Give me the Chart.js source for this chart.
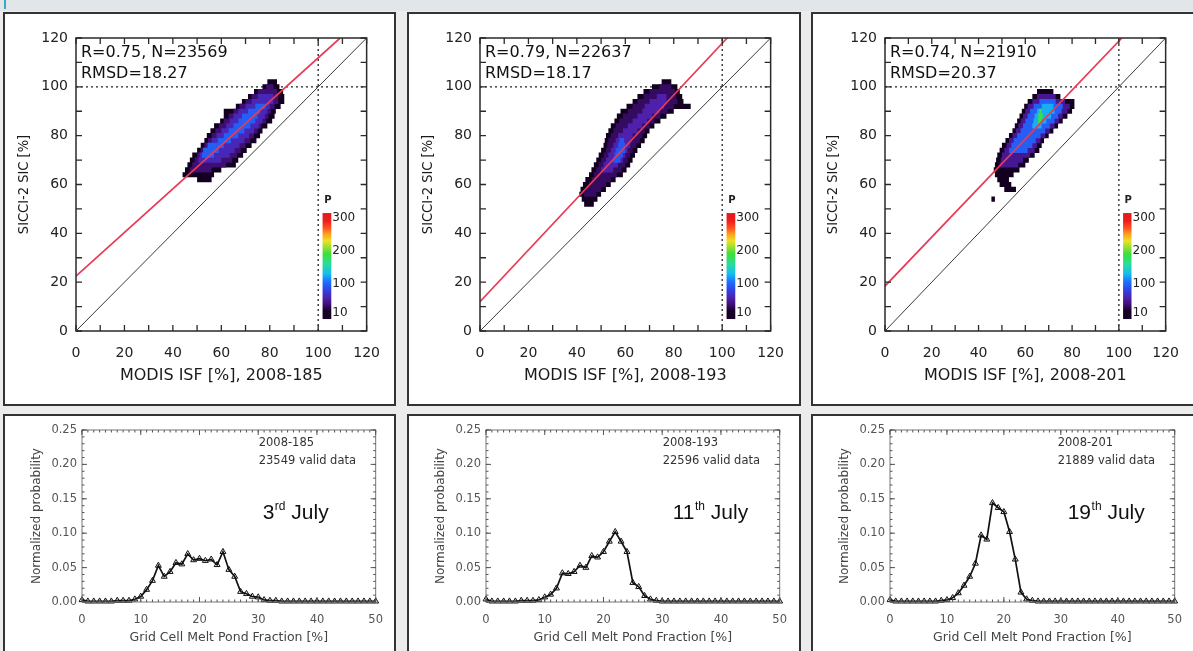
<!DOCTYPE html>
<html><head><meta charset="utf-8">
<script src="https://cdn.jsdelivr.net/npm/chart.js@4.4.1/dist/chart.umd.min.js"></script>
<style>
html,body{margin:0;padding:0;}
body{width:1193px;height:651px;overflow:hidden;position:relative;background:#ececec;font-family:'DejaVu Sans',sans-serif;}
.frame{position:absolute;border:2px solid #333;background:#fff;box-sizing:border-box;}
canvas{position:absolute;}
#hdr{position:absolute;left:0;top:0;width:1193px;height:11px;background:#e3e6e9;}
#hdrbar{position:absolute;left:4px;top:0;width:2px;height:9px;background:#3aa7c8;}
</style></head><body>
<div id="hdr"></div><div id="hdrbar"></div>
<div class="frame" style="left:3px;top:12px;width:393px;height:394px"></div>
<div class="frame" style="left:407px;top:12px;width:394px;height:394px"></div>
<div class="frame" style="left:811px;top:12px;width:400px;height:394px"></div>
<div class="frame" style="left:3px;top:414px;width:393px;height:260px"></div>
<div class="frame" style="left:407px;top:414px;width:394px;height:260px"></div>
<div class="frame" style="left:811px;top:414px;width:400px;height:260px"></div>
<canvas id="t0" width="389" height="389" style="left:5px;top:14px"></canvas>
<canvas id="t1" width="389" height="389" style="left:409px;top:14px"></canvas>
<canvas id="t2" width="379" height="389" style="left:814px;top:14px"></canvas>
<canvas id="b0" width="389" height="235" style="left:5px;top:416px"></canvas>
<canvas id="b1" width="389" height="235" style="left:409px;top:416px"></canvas>
<canvas id="b2" width="380" height="235" style="left:813px;top:416px"></canvas>
<script>
// ---------------- DATA ----------------
const scatterDays = ['2008-185', '2008-193', '2008-201'];
const statsR = [0.75, 0.79, 0.74];
const statsN = [23569, 22637, 21910];
const statsRMSD = [18.27, 18.17, 20.37];
const fitIntercept = [22.5, 12.0, 18.4];
const fitSlope = [0.894, 1.058, 1.003];
const axis120Ticks = [0, 20, 40, 60, 80, 100, 120];
const colorbarTicks = [10, 100, 200, 300];

// 2-D histogram rows: [SIC (y), ISF start (x0), ISF end (x1)] per density level P
const d185_p12 = [[62,50,56],[64,44,57],[66,45,60],[68,46,66],[70,47,67],[72,48,69],[74,50,70.5],[76,51.5,72.5],[78,53,74.5],[80,54,76],[82,55.5,77],[84,57,79],[86,59.5,81],[88,61,82],[90,61,82.5],[92,66,84.5],[94,68.5,86],[96,71,86],[98,73.5,85.5],[100,77,84],[102,79,83]];
const d185_p35 = [[66,47,56],[68,48,62],[70,49,64.5],[72,50,66.5],[74,51.5,68],[76,53,70],[78,54.5,72],[80,56,73.5],[82,57.5,75],[84,59,76.5],[86,61,78.5],[88,63,79.5],[90,65,80.5],[92,67.5,82],[94,70,83.5],[96,72.5,83.5],[98,75,83],[100,78.5,81.5]];
const d185_p60 = [[70,50.5,60],[72,51,63.5],[74,52.5,65.5],[76,54,67.5],[78,56,69.5],[80,58,71.5],[82,60,73.5],[84,62,75.5],[86,63.5,77],[88,65,78],[90,67,79],[92,70,80],[94,72.5,81.5],[96,75,81.5]];
const d185_p95 = [[72,52,57],[74,52.5,59],[76,54.5,61],[78,58.5,64],[80,61,67],[82,63,69.5],[84,65,72],[86,67,74],[88,68.5,75],[90,71,76],[92,74,78]];

const d193_p12 = [[52,43,47],[54,42,48.5],[56,41,50],[58,41.5,52],[60,42.5,54],[62,43.5,56],[64,45,59],[66,46,60.5],[68,47,62],[70,48,63],[72,49,64],[74,50,65],[76,51,66.5],[78,51.5,68],[80,52,69],[82,53,70],[84,54,72],[86,55.5,74.5],[88,56.5,77],[90,58,80],[92,60.5,87],[94,63,84],[96,65,83.5],[98,67.5,82.5],[100,71,81.5],[102,75,79]];
const d193_p30 = [[56,43,48],[58,44,50],[60,45,52],[62,46,54],[64,47,56.5],[66,48,58.5],[68,49,60],[70,50,61],[72,51,62],[74,52,63],[76,52.5,64.5],[78,53,66],[80,54,67],[82,55,68],[84,56,70],[86,57.5,72],[88,59,74.5],[90,61,77.5],[92,63,80],[94,65,81.5],[96,67.5,81],[98,70,80.5],[100,74,79]];
const d193_p55 = [[66,50,55],[68,51,57],[70,52,59],[72,53,60],[74,54,61],[76,55,62],[78,56,62.5],[80,57,63],[82,59,65],[84,61,67],[86,63,69],[88,65,71],[90,67,74],[92,68,76],[94,70,77],[96,73,77]];
const d193_p90 = [[70,55,58],[72,55.5,59],[74,56,60],[76,57,60],[78,57.5,59.5]];

const d201_p12 = [[54,45.5,47],[58,51,56],[60,49,54],[62,48,53],[64,47,55],[66,46.5,57.5],[68,47,60],[70,47.5,61.5],[72,48,64],[74,49,66],[76,50,67],[78,51.5,68],[80,53,70],[82,54.5,72],[84,55.5,74],[86,56.5,76],[88,57.5,78],[90,58.5,80],[92,59.5,81],[94,61,81],[96,63,75],[98,65,72]];
const d201_p45 = [[68,49,57],[70,49.5,59],[72,50,62],[74,51,64],[76,52,65],[78,53,66.5],[80,54.5,68.5],[82,56,70.5],[84,57,72.5],[86,58,74.5],[88,59,76],[90,60,78],[92,61,79],[94,63,77],[96,65,73]];
const d201_p95 = [[74,53,61],[76,54,63],[78,55,64.5],[80,56.5,66.5],[82,58,68.5],[84,59,70.5],[86,60,72.5],[88,61,74],[90,62,75.5],[92,63.5,76],[94,66,73]];
const d201_p125 = [[84,63,67],[86,63.5,69],[88,64,71],[90,65,72.5],[92,67,72]];
const d201_p185 = [[86,65.5,67],[88,65.5,67.5],[90,66,67]];

const dens185 = [[12, d185_p12], [35, d185_p35], [60, d185_p60], [95, d185_p95]];
const dens193 = [[12, d193_p12], [30, d193_p30], [55, d193_p55], [90, d193_p90]];
const dens201 = [[12, d201_p12], [45, d201_p45], [95, d201_p95], [125, d201_p125], [185, d201_p185]];

// melt pond histograms
const meltPondPct = [0,1,2,3,4,5,6,7,8,9,10,11,12,13,14,15,16,17,18,19,20,21,22,23,24,25,26,27,28,29,30,31,32,33,34,35,36,37,38,39,40,41,42,43,44,45,46,47,48,49,50];
const prob185 = [0.003,0.001,0.001,0.001,0.001,0.001,0.002,0.002,0.002,0.004,0.008,0.018,0.031,0.053,0.037,0.044,0.057,0.055,0.070,0.061,0.063,0.060,0.062,0.054,0.073,0.047,0.037,0.015,0.012,0.008,0.007,0.003,0.002,0.002,0.001,0.001,0.001,0.001,0.001,0.001,0.001,0.001,0.001,0.001,0.001,0.001,0.001,0.001,0.001,0.001,0.001];
const prob193 = [0.004,0.001,0.001,0.001,0.001,0.001,0.002,0.002,0.002,0.003,0.007,0.011,0.020,0.042,0.041,0.044,0.053,0.050,0.067,0.065,0.073,0.088,0.102,0.088,0.073,0.028,0.022,0.009,0.004,0.002,0.001,0.001,0.001,0.001,0.001,0.001,0.001,0.001,0.001,0.001,0.001,0.001,0.001,0.001,0.001,0.001,0.001,0.001,0.001,0.001,0.001];
const prob201 = [0.003,0.001,0.001,0.001,0.001,0.001,0.001,0.001,0.001,0.002,0.003,0.006,0.013,0.024,0.037,0.056,0.097,0.091,0.144,0.137,0.131,0.102,0.062,0.014,0.004,0.002,0.001,0.001,0.001,0.001,0.001,0.001,0.001,0.001,0.001,0.001,0.001,0.001,0.001,0.001,0.001,0.001,0.001,0.001,0.001,0.001,0.001,0.001,0.001,0.001,0.001];
const validData = [23549, 22596, 21889];
const pondXTicks = [0, 10, 20, 30, 40, 50];
const probTicks = [0, 0.05, 0.10, 0.15, 0.20, 0.25];
const dateDay = ['3', '11', '19'];
const dateSuffix = ['rd', 'th', 'th'];
const dateMonth = ['July', 'July', 'July'];

// ---------------- STYLE HELPERS ----------------
const cmapStops = [[-10,[0,0,0]],[15,[22,0,38]],[35,[62,14,115]],[55,[78,32,172]],[80,[48,66,228]],[105,[28,112,255]],[130,[22,190,240]],[160,[40,222,150]],[190,[60,222,60]],[230,[236,226,36]],[250,[255,160,30]],[270,[255,80,30]],[290,[240,30,30]],[315,[225,25,25]]];
function cmap(p){
  if (p <= cmapStops[0][0]) return 'rgb(' + cmapStops[0][1].join(',') + ')';
  for (let i = 1; i < cmapStops.length; i++){
    const [p1, c1] = cmapStops[i], [p0, c0] = cmapStops[i-1];
    if (p <= p1){
      const t = (p - p0) / (p1 - p0);
      return 'rgb(' + c0.map((c, k) => Math.round(c + (c1[k] - c) * t)).join(',') + ')';
    }
  }
  return 'rgb(' + cmapStops[cmapStops.length-1][1].join(',') + ')';
}
function rowsToLine(rows){
  const out = [];
  rows.forEach(r => { out.push({x: r[1], y: r[0]}); out.push({x: r[2], y: r[0]}); out.push({x: r[2], y: null}); });
  return out;
}

// ---------------- PLUGINS ----------------
const idlBox = {
  id: 'idlBox',
  afterDatasetsDraw(chart, args, o){
    const {ctx, chartArea: ca, scales: {x, y}} = chart;
    ctx.save();
    ctx.strokeStyle = o.color; ctx.lineWidth = o.width;
    ctx.strokeRect(ca.left, ca.top, ca.right - ca.left, ca.bottom - ca.top);
    ctx.lineWidth = o.tickWidth; ctx.strokeStyle = o.tickColor;
    const xt = (step, len) => {
      for (let v = x.min; v <= x.max + 1e-9; v += step){
        const p = x.getPixelForValue(v);
        ctx.beginPath(); ctx.moveTo(p, ca.bottom); ctx.lineTo(p, ca.bottom - len);
        ctx.moveTo(p, ca.top); ctx.lineTo(p, ca.top + len); ctx.stroke();
      }
    };
    const yt = (step, len) => {
      for (let v = y.min; v <= y.max + 1e-9; v += step){
        const p = y.getPixelForValue(v);
        ctx.beginPath(); ctx.moveTo(ca.left, p); ctx.lineTo(ca.left + len, p);
        ctx.moveTo(ca.right, p); ctx.lineTo(ca.right - len, p); ctx.stroke();
      }
    };
    if (o.xMinor) xt(o.xMinor, o.minorLen);
    if (o.yMinor) yt(o.yMinor, o.minorLen);
    xt(o.xMajor, o.majorLen); yt(o.yMajor, o.majorLen);
    ctx.restore();
  }
};
const cbar = {
  id: 'cbar',
  afterDatasetsDraw(chart, args, o){
    if (!o || !o.show) return;
    const {ctx, scales: {x, y}} = chart;
    const X0 = x.getPixelForValue(o.x0), X1 = x.getPixelForValue(o.x1);
    const Yb = y.getPixelForValue(o.y0), Yt = y.getPixelForValue(o.y1);
    const g = ctx.createLinearGradient(0, Yb, 0, Yt);
    cmapStops.forEach(s => {
      const t = (s[0] - o.pMin) / (o.pMax - o.pMin);
      if (t >= 0 && t <= 1) g.addColorStop(t, 'rgb(' + s[1].join(',') + ')');
    });
    ctx.save();
    ctx.fillStyle = g; ctx.fillRect(X0, Yt, X1 - X0, Yb - Yt);
    ctx.fillStyle = '#222'; ctx.font = '12px "DejaVu Sans"'; ctx.textAlign = 'left'; ctx.textBaseline = 'middle';
    o.ticks.forEach(p => {
      const yv = o.y0 + (p - o.pMin) / (o.pMax - o.pMin) * (o.y1 - o.y0);
      ctx.fillText(String(p), X1 + 1, y.getPixelForValue(yv));
    });
    ctx.font = 'bold 10px "DejaVu Sans"'; ctx.textAlign = 'center';
    ctx.fillText('P', (X0 + X1) / 2 + 1, y.getPixelForValue(o.pY));
    ctx.restore();
  }
};
const notes = {
  id: 'notes',
  afterDraw(chart, args, o){
    const {ctx, chartArea: ca} = chart;
    ctx.save();
    (o.items || []).forEach(it => {
      ctx.font = it.font; ctx.fillStyle = it.color; ctx.textBaseline = 'middle'; ctx.textAlign = 'left';
      const x = it.from === 'right' ? ca.right + it.dx : ca.left + it.dx;
      ctx.fillText(it.text, x, ca.top + it.dy);
    });
    if (o.date){
      const d = o.date;
      let x = ca.right + d.dx; const yb = ca.top + d.dy;
      ctx.fillStyle = '#111'; ctx.textBaseline = 'alphabetic'; ctx.textAlign = 'left';
      ctx.font = '21px "Liberation Sans"'; ctx.fillText(d.day, x, yb); x += ctx.measureText(d.day).width;
      ctx.font = '12px "Liberation Sans"'; ctx.fillText(d.suf, x + 0.5, yb - 9); x += ctx.measureText(d.suf).width + 0.5;
      ctx.font = '21px "Liberation Sans"'; ctx.fillText(' ' + d.month, x, yb);
    }
    ctx.restore();
  }
};

// ---------------- CHARTS ----------------
function topChart(id, i, layers, padRight){
  const a = fitIntercept[i], b = fitSlope[i];
  const ds = [];
  ds.push({data: [{x: 0, y: a}, {x: (120 - a) / b, y: 120}], borderColor: '#e83a55', borderWidth: 1.7, order: 0});
  ds.push({data: [{x: 0, y: 0}, {x: 120, y: 120}], borderColor: '#3a3a3a', borderWidth: 1, order: 1});
  layers.forEach((L, k) => ds.push({data: rowsToLine(L[1]), borderColor: cmap(L[0]), borderWidth: 5.2, order: 10 - k}));
  ds.push({data: [{x: 0, y: 100}, {x: 120, y: 100}], borderColor: '#222', borderWidth: 1.3, borderDash: [2, 3], order: 20});
  ds.push({data: [{x: 100, y: 0}, {x: 100, y: 120}], borderColor: '#222', borderWidth: 1.3, borderDash: [2, 3], order: 20});
  ds.forEach(d => { d.showLine = true; d.pointRadius = 0; d.pointHoverRadius = 0; d.fill = false; d.spanGaps = false; d.borderCapStyle = 'butt'; });
  new Chart(document.getElementById(id), {
    type: 'scatter',
    data: {datasets: ds},
    options: {
      responsive: false, animation: false, events: [],
      layout: {padding: {top: 24, right: padRight, left: 0, bottom: 0}},
      plugins: {
        legend: {display: false}, tooltip: {enabled: false},
        idlBox: {color: '#2a2a2a', width: 1.5, tickColor: '#2a2a2a', tickWidth: 1.3, xMajor: 10, yMajor: 10, majorLen: 6},
        cbar: {show: true, x0: 101.8, x1: 105.4, y0: 4.9, y1: 48.3, pMin: -9, pMax: 315, ticks: colorbarTicks, pY: 53.3},
        notes: {items: [
          {text: 'R=' + statsR[i].toFixed(2) + ', N=' + statsN[i], dx: 5, dy: 15, font: '16px "DejaVu Sans"', color: '#111'},
          {text: 'RMSD=' + statsRMSD[i].toFixed(2), dx: 5, dy: 36, font: '16px "DejaVu Sans"', color: '#111'}
        ]}
      },
      scales: {
        x: {type: 'linear', min: 0, max: 120,
            afterBuildTicks: s => { s.ticks = axis120Ticks.map(v => ({value: v})); },
            afterFit: s => { s.height = 72; },
            grid: {display: false, drawTicks: false}, border: {display: false},
            ticks: {padding: 14, font: {family: 'DejaVu Sans', size: 14}, color: '#222', maxRotation: 0, autoSkip: false},
            title: {display: true, text: 'MODIS ISF [%], ' + scatterDays[i], font: {family: 'DejaVu Sans', size: 16}, color: '#1a1a1a', padding: {top: 0, bottom: 18}}},
        y: {type: 'linear', min: 0, max: 120,
            afterBuildTicks: s => { s.ticks = axis120Ticks.map(v => ({value: v})); },
            afterFit: s => { s.width = 71; },
            grid: {display: false, drawTicks: false}, border: {display: false},
            ticks: {padding: 8, font: {family: 'DejaVu Sans', size: 14}, color: '#222', autoSkip: false},
            title: {display: true, text: 'SICCI-2 SIC [%]', font: {family: "'DejaVu Sans Condensed', 'DejaVu Sans'", size: 14.5}, color: '#1a1a1a', padding: {top: 11, bottom: 0}}}
      }
    },
    plugins: [idlBox, cbar, notes]
  });
}

function bottomChart(id, i, values, padRight, dateDx){
  new Chart(document.getElementById(id), {
    type: 'scatter',
    data: {datasets: [{
      data: meltPondPct.map((x, k) => ({x: x, y: values[k]})),
      showLine: true, borderColor: '#111', borderWidth: 1.7,
      pointStyle: 'triangle', pointRadius: 3.4, pointBorderColor: '#111', pointBorderWidth: 1,
      pointBackgroundColor: 'rgba(255,255,255,0)', pointHoverRadius: 0, clip: false
    }]},
    options: {
      responsive: false, animation: false, events: [],
      layout: {padding: {top: 14, right: padRight, left: 0, bottom: 0}},
      plugins: {
        legend: {display: false}, tooltip: {enabled: false},
        idlBox: {color: '#777', width: 1, tickColor: '#555', tickWidth: 1, xMajor: 10, yMajor: 0.05, xMinor: 1, yMinor: 0.01, majorLen: 5, minorLen: 2.5},
        cbar: {show: false},
        notes: {items: [
          {text: scatterDays[i], from: 'right', dx: -117, dy: 13, font: '11.5px "DejaVu Sans"', color: '#333'},
          {text: validData[i] + ' valid data', from: 'right', dx: -117, dy: 31, font: '11.5px "DejaVu Sans"', color: '#333'}
        ], date: {day: dateDay[i], suf: dateSuffix[i], month: dateMonth[i], dx: dateDx, dy: 89}}
      },
      scales: {
        x: {type: 'linear', min: 0, max: 50,
            afterBuildTicks: s => { s.ticks = pondXTicks.map(v => ({value: v})); },
            afterFit: s => { s.height = 49; },
            grid: {display: false, drawTicks: false}, border: {display: false},
            ticks: {padding: 11, font: {family: 'DejaVu Sans', size: 11.5}, color: '#555', maxRotation: 0, autoSkip: false},
            title: {display: true, text: 'Grid Cell Melt Pond Fraction [%]', font: {family: 'DejaVu Sans', size: 12.5}, color: '#444', padding: {top: 0, bottom: 6}}},
        y: {type: 'linear', min: 0, max: 0.25,
            afterBuildTicks: s => { s.ticks = probTicks.map(v => ({value: v})); },
            afterFit: s => { s.width = 77; },
            grid: {display: false, drawTicks: false}, border: {display: false},
            ticks: {padding: 5, font: {family: 'DejaVu Sans', size: 11.5}, color: '#555', autoSkip: false, callback: v => Number(v).toFixed(2)},
            title: {display: true, text: 'Normalized probability', font: {family: 'DejaVu Sans', size: 12}, color: '#444', padding: {top: 25, bottom: 0}}}
      }
    },
    plugins: [idlBox, notes]
  });
}

topChart('t0', 0, dens185, 22);
topChart('t1', 1, dens193, 22);
topChart('t2', 2, dens201, 14);
bottomChart('b0', 0, prob185, 18, -113);
bottomChart('b1', 1, prob193, 18, -107);
bottomChart('b2', 2, prob201, 10, -107);
</script>
</body></html>
